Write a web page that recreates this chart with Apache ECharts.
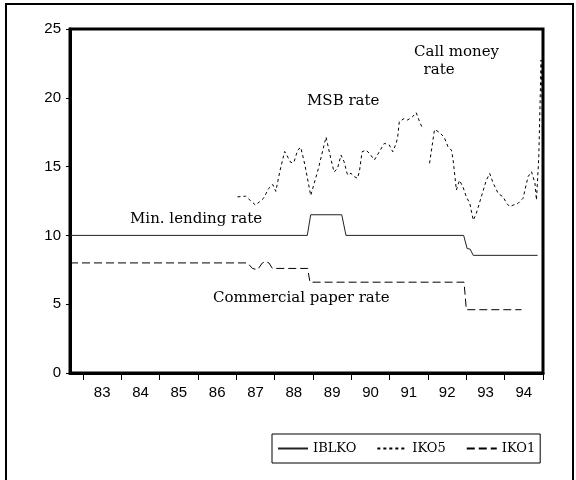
<!DOCTYPE html>
<html>
<head>
    <meta charset="UTF-8">
    <title>Interest rates</title>
    <script src="https://cdn.jsdelivr.net/npm/echarts/dist/echarts.min.js"></script>
    <style>
        body { margin: 0; background: #fff; }
        #main { width: 576px; height: 480px; }
    </style>
</head>
<body>
    <div id="main"></div>
    <script>
        // year ticks and labels
        var yearTicks = [1983, 1984, 1985, 1986, 1987, 1988, 1989, 1990, 1991, 1992, 1993, 1994, 1995];
        var yearLabels = ['83', '84', '85', '86', '87', '88', '89', '90', '91', '92', '93', '94'];

        // IBLKO - min. lending rate
        var iblkoDates = [1982.66, 1988.85, 1988.94, 1989.75, 1989.86, 1992.93, 1993.02, 1993.1, 1993.18, 1994.86];
        var iblkoRates = [10, 10, 11.5, 11.5, 10, 10, 9.05, 9.0, 8.55, 8.55];

        // IKO5 - MSB rate / call money rate
        var msbDates = [1987.03, 1987.24, 1987.5, 1987.71, 1987.84, 1987.95, 1988.03, 1988.13, 1988.26, 1988.42,
            1988.5, 1988.6, 1988.68, 1988.79, 1988.94, 1989.13, 1989.34, 1989.47, 1989.55, 1989.64,
            1989.73, 1989.81, 1989.9, 1989.99, 1990.08, 1990.16, 1990.21, 1990.28, 1990.38, 1990.47,
            1990.6, 1990.73, 1990.86, 1990.99, 1991.08, 1991.17, 1991.21, 1991.25, 1991.38, 1991.47,
            1991.6, 1991.69, 1991.78, 1991.87, 1991.95, 1992.04, 1992.17, 1992.29, 1992.42, 1992.52,
            1992.61, 1992.65, 1992.74, 1992.82, 1992.91, 1993.0, 1993.09, 1993.18, 1993.26, 1993.39,
            1993.52, 1993.61, 1993.7, 1993.83, 1993.96, 1994.05, 1994.13, 1994.22, 1994.35, 1994.48,
            1994.61, 1994.7, 1994.79, 1994.83, 1994.89, 1994.95, 1994.98, 1995.0];
        var msbRates = [12.8, 12.85, 12.2, 12.7, 13.4, 13.7, 13.2, 14.6, 16.1, 15.3,
            15.3, 16.2, 16.4, 15.1, 12.9, 14.75, 17.15, 15.5, 14.6, 14.88,
            15.84, 15.36, 14.39, 14.51, 14.27, 14.15, 14.63, 16.08, 16.2, 15.97,
            15.48, 16.08, 16.69, 16.57, 16.08, 16.69, 17.17, 18.26, 18.5, 18.39,
            18.63, 18.92, 18.26, 17.71, null, 15.24, 17.7, 17.5, 17.15, 16.45,
            16.2, 15.6, 13.3, 14.0, 13.54, 12.8, 12.33, 11.1, 11.6, 12.8,
            14.0, 14.5, 13.8, 13.05, 12.8, 12.33, 12.1, 12.2, 12.33, 12.7,
            14.27, 14.63, 13.8, 12.57, 15.7, 22.75, 19.35, 13.0];

        // IKO1 - commercial paper rate
        var cpDates = [1982.66, 1987.29, 1987.42, 1987.55, 1987.68, 1987.76, 1987.85, 1987.94, 1988.86, 1988.92, 1992.94, 1993.0, 1994.44];
        var cpRates = [8, 8, 7.6, 7.5, 8.0, 8.1, 8.0, 7.6, 7.6, 6.6, 6.6, 4.6, 4.6];

        function zip(xs, ys) {
            return xs.map(function (x, i) { return [x, ys[i]]; });
        }

        var serif = 'DejaVu Serif';
        var sans = 'Liberation Sans';

        var myChart = echarts.init(document.getElementById('main'));

        var option = {
            animation: false,
            backgroundColor: '#fff',
            grid: {
                left: 70, right: 33, top: 29, bottom: 107,
                show: true, borderColor: '#000', borderWidth: 3
            },
            legend: {
                left: 272, top: 434,
                data: ['IBLKO', 'IKO5', 'IKO1'],
                borderColor: '#000', borderWidth: 1, borderRadius: 0,
                padding: [8, 5, 8, 5],
                itemWidth: 30, itemHeight: 10, itemGap: 20,
                itemStyle: { opacity: 0 },
                textStyle: { color: '#000', fontFamily: serif, fontSize: 13 }
            },
            xAxis: {
                type: 'value',
                min: 1982.66,
                max: 1995,
                splitLine: { show: false },
                axisLine: { lineStyle: { color: '#000', width: 3 } },
                axisTick: {
                    length: 7,
                    customValues: yearTicks,
                    lineStyle: { color: '#000', width: 1 }
                },
                axisLabel: {
                    customValues: yearLabels.map(function (l, i) { return yearTicks[i] + 0.5; }),
                    formatter: function (v) { return yearLabels[Math.floor(v) - 1983]; },
                    color: '#000', fontFamily: sans, fontSize: 15, margin: 12
                }
            },
            yAxis: {
                type: 'value',
                min: 0, max: 25, interval: 5,
                splitLine: { show: false },
                axisLine: { show: true, lineStyle: { color: '#000', width: 3 } },
                axisTick: { show: true, length: 4, lineStyle: { color: '#000', width: 1 } },
                axisLabel: { color: '#000', fontFamily: sans, fontSize: 15, margin: 9 }
            },
            series: [
                {
                    name: 'IBLKO', type: 'line', showSymbol: false, symbol: 'none',
                    lineStyle: { color: '#222', width: 1, type: 'solid' },
                    itemStyle: { color: '#222' },
                    data: zip(iblkoDates, iblkoRates)
                },
                {
                    name: 'IKO5', type: 'line', showSymbol: false, symbol: 'none', connectNulls: false,
                    lineStyle: { color: '#000', width: 1, type: [3, 3] },
                    itemStyle: { color: '#000' },
                    data: zip(msbDates, msbRates)
                },
                {
                    name: 'IKO1', type: 'line', showSymbol: false, symbol: 'none',
                    lineStyle: { color: '#000', width: 1, type: [8, 4] },
                    itemStyle: { color: '#000' },
                    data: zip(cpDates, cpRates)
                }
            ],
            graphic: [
                {
                    type: 'rect', silent: true,
                    shape: { x: 6, y: 4, width: 567, height: 480 },
                    style: { fill: 'none', stroke: '#000', lineWidth: 2 }
                },
                { type: 'text', left: 130, top: 212, style: { text: 'Min. lending rate', font: '15px "DejaVu Serif"', fill: '#000' } },
                { type: 'text', left: 307, top: 94, style: { text: 'MSB rate', font: '15px "DejaVu Serif"', fill: '#000' } },
                { type: 'text', left: 414, top: 43, style: { text: 'Call money\n  rate', font: '15px "DejaVu Serif"', fill: '#000', lineHeight: 18 } },
                { type: 'text', left: 213, top: 291, style: { text: 'Commercial paper rate', font: '15px "DejaVu Serif"', fill: '#000' } }
            ]
        };

        myChart.setOption(option);
    </script>
</body>
</html>
